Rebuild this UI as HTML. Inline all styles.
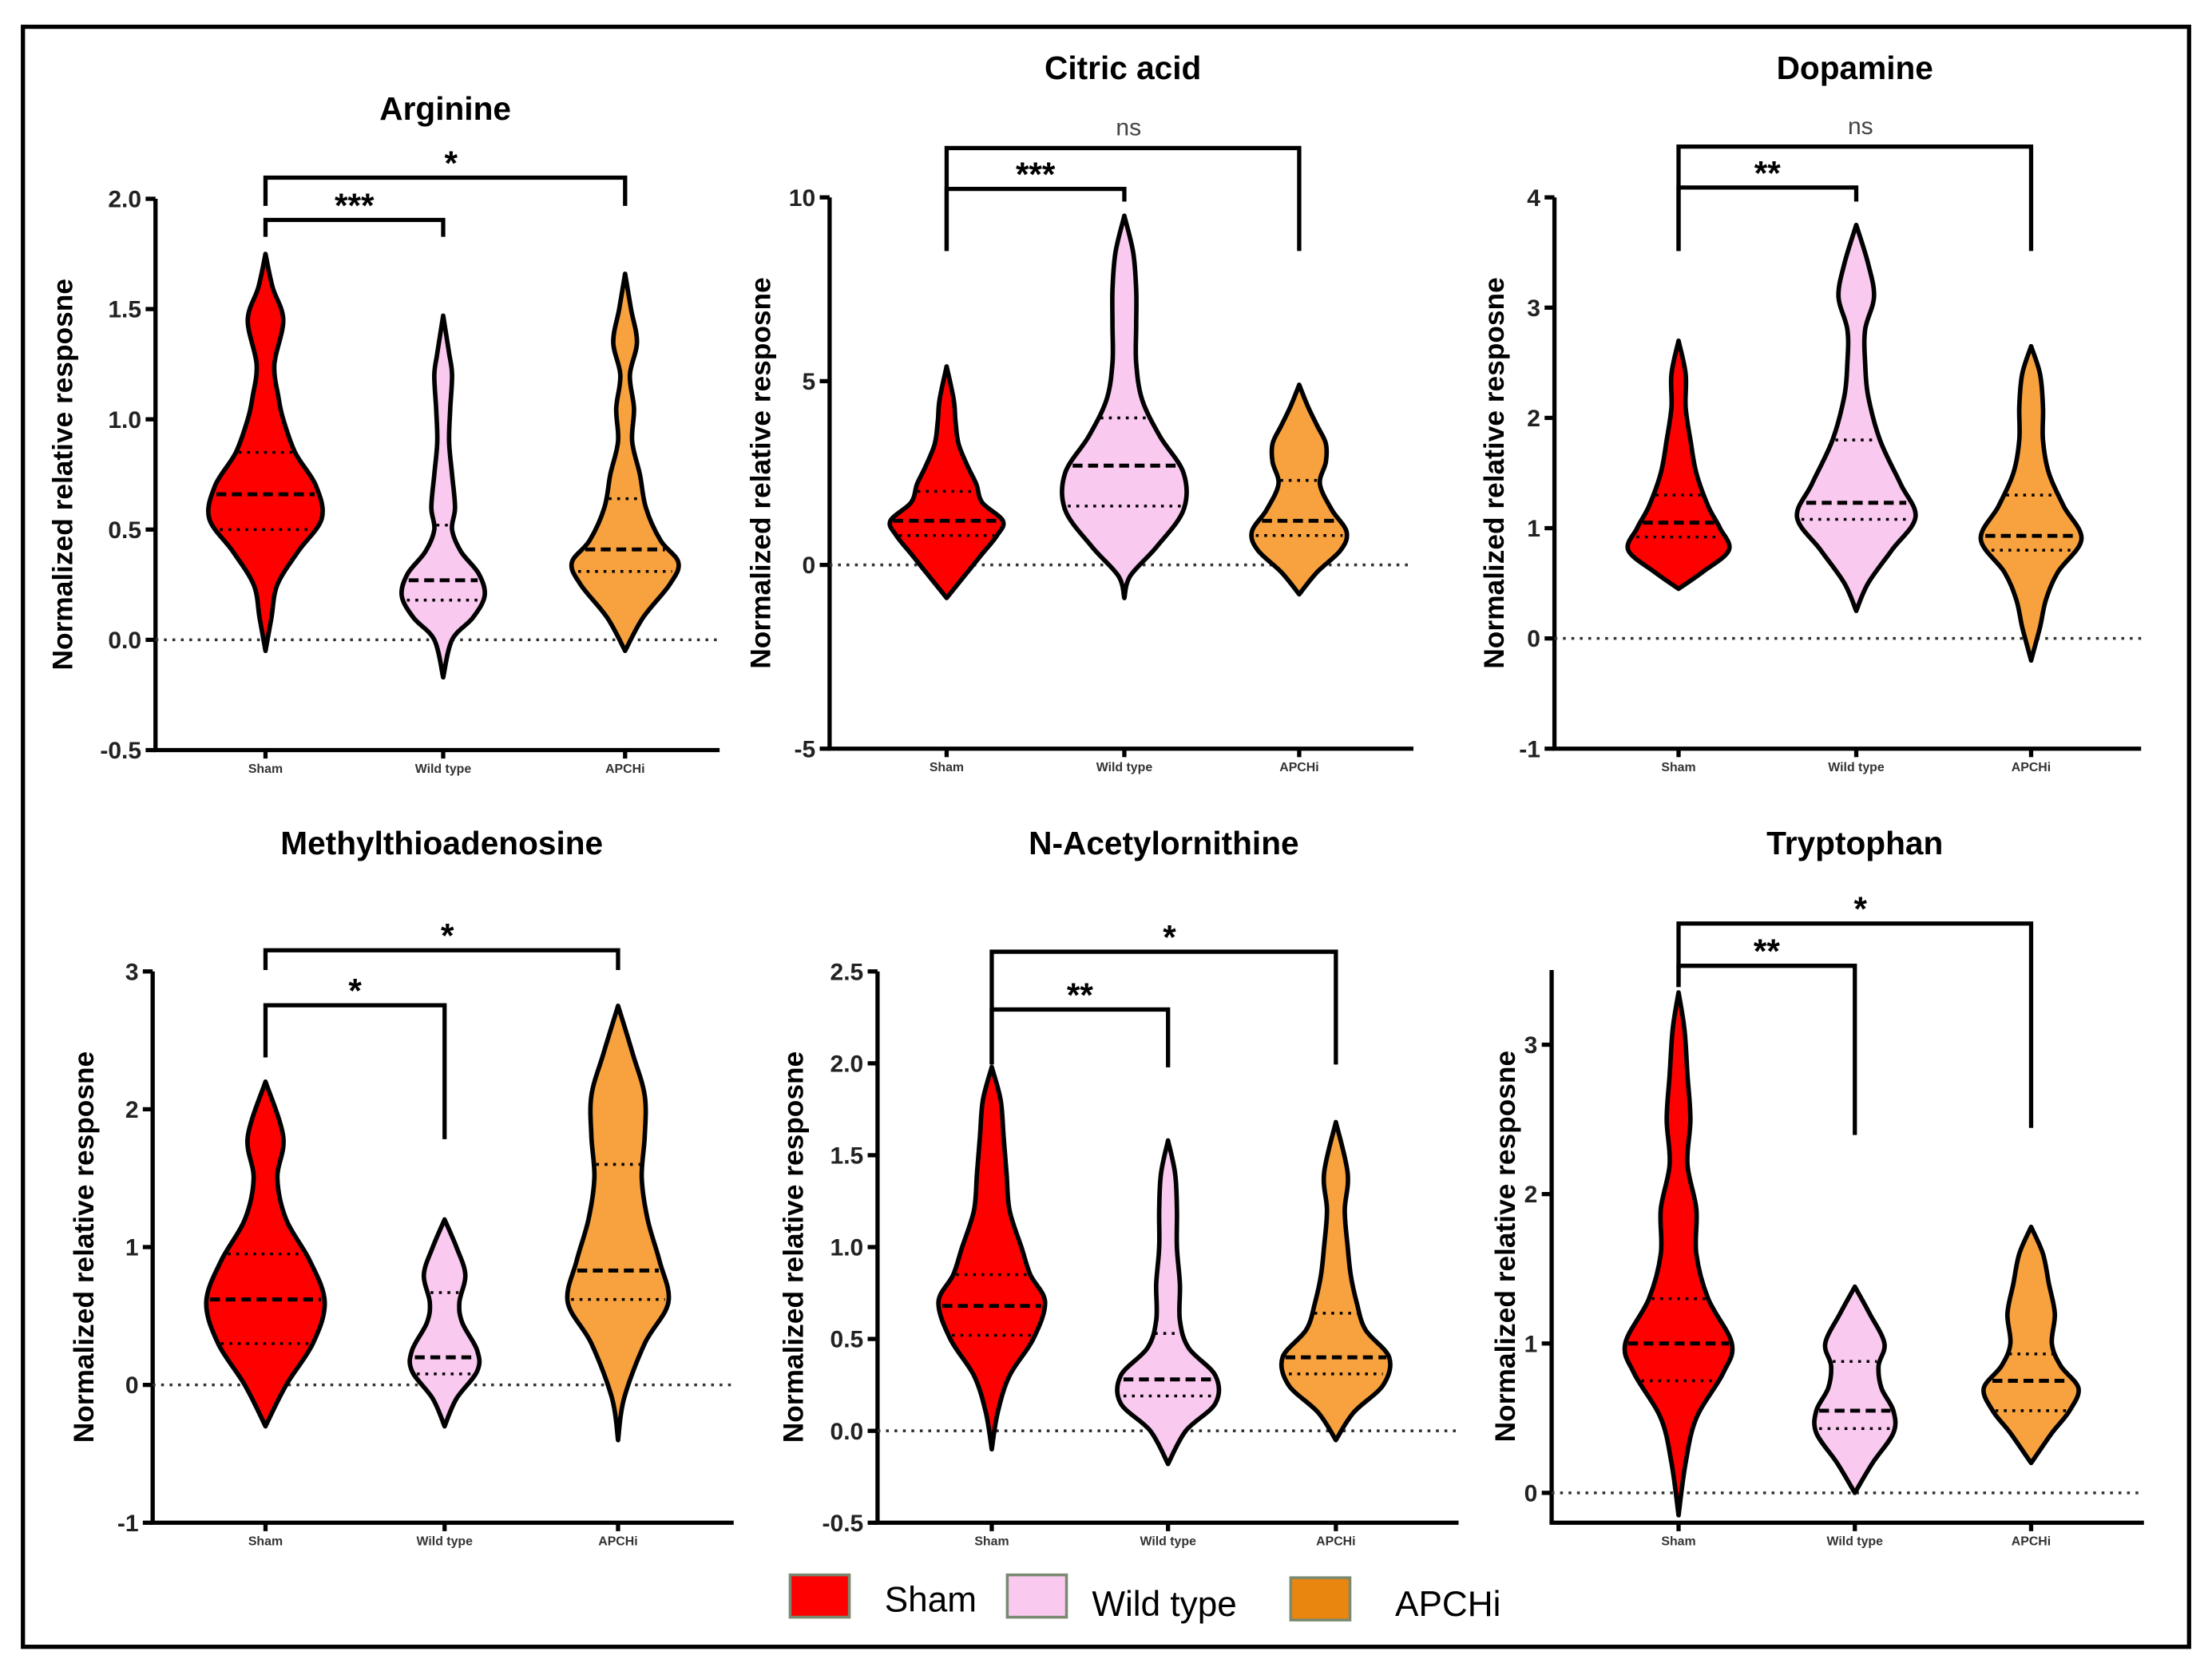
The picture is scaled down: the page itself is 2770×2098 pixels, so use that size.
<!DOCTYPE html>
<html><head><meta charset="utf-8"><style>
html,body{margin:0;padding:0;background:#fff;}
svg{display:block;}
text{font-family:"Liberation Sans",Arial,sans-serif;}
</style></head><body>
<svg id="fig" width="2770" height="2098" viewBox="0 0 1568 1188" xmlns="http://www.w3.org/2000/svg">
<rect x="16" y="19" width="1536" height="1149" fill="#fff" stroke="#000" stroke-width="3"/>
<g id="panels"></g>
<g>
 <rect x="560" y="1117" width="42" height="30" fill="#ff0000" stroke="#7a8a70" stroke-width="2"/>
 <text x="627" y="1143" font-size="25">Sham</text>
 <rect x="714" y="1117" width="42" height="30" fill="#f9c9ef" stroke="#7a8a70" stroke-width="2"/>
 <text x="774" y="1146" font-size="25">Wild type</text>
 <rect x="915" y="1119" width="42" height="30" fill="#e8860f" stroke="#7a8a70" stroke-width="2"/>
 <text x="989" y="1146" font-size="25">APCHi</text>
</g>
</svg>
<script>
const categories=["Sham","Wild type","APCHi"];
const titles=["Arginine","Citric acid","Dopamine","Methylthioadenosine","N-Acetylornithine","Tryptophan"];
const yTicks=[[-0.5,0,0.5,1,1.5,2],[-5,0,5,10],[-1,0,1,2,3,4],[-1,0,1,2,3],[-0.5,0,0.5,1,1.5,2,2.5],[0,1,2,3]];
const yTickLabels=[["-0.5","0.0","0.5","1.0","1.5","2.0"],["-5","0","5","10"],["-1","0","1","2","3","4"],["-1","0","1","2","3"],["-0.5","0.0","0.5","1.0","1.5","2.0","2.5"],["0","1","2","3"]];
const yDomains=[[-0.5,2],[-5,10],[-1,4],[-1,3],[-0.5,2.5],[-0.2,3.5]];
// violin levels / relative densities per panel [sham, wild, apchi]
const levels=[
 [[-0.05,0.1,0.25,0.4,0.55,0.7,0.85,1.0,1.1,1.25,1.45,1.6,1.75],[-0.17,0,0.1,0.2,0.3,0.4,0.5,0.6,0.75,0.9,1.05,1.2,1.3,1.47],[-0.05,0.1,0.25,0.35,0.45,0.6,0.75,0.9,1.05,1.2,1.35,1.5,1.66]],
 [[-0.9,-0.3,0.3,0.8,1.2,1.7,2.2,2.7,3.3,3.9,4.5,5.4],[-0.9,-0.3,0.5,1.5,2.5,3.5,4.5,5.5,6.5,7.5,8.5,9.5],[-0.8,-0.2,0.4,0.9,1.5,2.2,2.8,3.3,3.8,4.3,4.9]],
 [[0.45,0.6,0.8,1.0,1.2,1.5,1.8,2.1,2.4,2.7],[0.25,0.5,0.8,1.1,1.4,1.8,2.2,2.5,2.8,3.1,3.4,3.75],[-0.2,0.1,0.35,0.6,0.9,1.2,1.5,1.8,2.1,2.4,2.65]],
 [[-0.3,0,0.3,0.6,0.9,1.2,1.5,1.8,2.2],[-0.3,-0.1,0.1,0.25,0.45,0.6,0.8,1.0,1.2],[-0.4,-0.1,0.3,0.6,0.9,1.2,1.5,1.8,2.1,2.4,2.75]],
 [[-0.1,0.1,0.3,0.5,0.7,0.85,1.0,1.2,1.4,1.6,1.8,1.98],[-0.18,0,0.15,0.3,0.45,0.6,0.8,1.0,1.2,1.4,1.58],[-0.05,0.1,0.25,0.4,0.55,0.7,0.85,1.0,1.2,1.4,1.68]],
 [[-0.15,0.2,0.5,0.8,1.0,1.3,1.6,1.9,2.2,2.5,2.8,3.1,3.35],[0,0.2,0.4,0.55,0.7,0.85,1.0,1.2,1.38],[0.2,0.4,0.55,0.7,0.85,1.0,1.2,1.4,1.6,1.78]]
];
const densities=[
 [[0,0.1,0.2,0.55,0.95,0.85,0.5,0.3,0.22,0.15,0.3,0.12,0],[0,0.15,0.5,0.7,0.6,0.3,0.15,0.2,0.15,0.1,0.12,0.15,0.1,0],[0,0.3,0.75,0.9,0.6,0.35,0.25,0.12,0.15,0.08,0.2,0.1,0]],
 [[0,0.3,0.6,0.85,0.95,0.6,0.5,0.35,0.2,0.15,0.12,0],[0,0.1,0.55,1.0,1.0,0.6,0.3,0.2,0.2,0.2,0.15,0],[0,0.3,0.7,0.8,0.55,0.35,0.45,0.45,0.3,0.15,0]],
 [[0,0.4,0.85,0.7,0.5,0.3,0.2,0.12,0.12,0],[0,0.2,0.6,1.0,0.75,0.4,0.2,0.15,0.15,0.3,0.2,0],[0,0.15,0.25,0.45,0.85,0.55,0.3,0.2,0.2,0.15,0]],
 [[0,0.35,0.8,1.0,0.75,0.35,0.2,0.3,0],[0,0.2,0.55,0.55,0.3,0.25,0.35,0.2,0],[0,0.1,0.45,0.85,0.7,0.5,0.4,0.45,0.45,0.25,0]],
 [[0,0.1,0.3,0.7,0.9,0.65,0.5,0.3,0.25,0.2,0.15,0],[0,0.3,0.8,0.8,0.35,0.2,0.2,0.15,0.15,0.12,0],[0,0.3,0.8,0.9,0.5,0.35,0.25,0.2,0.15,0.2,0]],
 [[0,0.12,0.3,0.75,0.9,0.5,0.3,0.3,0.15,0.2,0.15,0.1,0],[0,0.3,0.65,0.65,0.45,0.4,0.5,0.25,0],[0,0.35,0.65,0.8,0.5,0.35,0.4,0.3,0.2,0]]
];
const medians=[[0.66,0.27,0.41],[1.2,2.7,1.2],[1.05,1.23,0.93],[0.62,0.2,0.83],[0.68,0.28,0.4],[1.0,0.55,0.75]];
const q1s=[[0.5,0.18,0.31],[0.8,1.6,0.8],[0.92,1.08,0.8],[0.3,0.08,0.62],[0.52,0.19,0.31],[0.75,0.43,0.55]];
const q3s=[[0.85,0.52,0.64],[2.0,4.0,2.3],[1.3,1.8,1.3],[0.95,0.67,1.6],[0.85,0.53,0.64],[1.3,0.88,0.93]];
const sigOuter=["*","ns","ns","*","*","*"];
const sigInner=["***","***","**","*","**","**"];
// layout (non-data)
const layout=[
 {ax:110,top:141,bot:532,right:510,cx:[188,314,443],ty:85,ob:126,ib:156,olegs:[146,146],ilegs:[168,168],yl:66},
 {ax:588,top:140,bot:531,right:1002,cx:[671,797,921],ty:56,ob:105,ib:134,olegs:[178,178],ilegs:[178,143],yl:49},
 {ax:1102,top:140,bot:531,right:1518,cx:[1190,1316,1440],ty:56,ob:104,ib:133,olegs:[178,178],ilegs:[178,143],yl:43},
 {ax:108,top:689,bot:1080,right:520,cx:[188,315,438],ty:606,ob:674,ib:713,olegs:[688,688],ilegs:[750,808],yl:49},
 {ax:622,top:689,bot:1080,right:1034,cx:[703,828,947],ty:606,ob:675,ib:716,olegs:[755,755],ilegs:[755,757],yl:60},
 {ax:1100,top:688,bot:1080,right:1520,cx:[1190,1315,1440],ty:606,ob:655,ib:685,olegs:[700,800],ilegs:[700,805],yl:33}
];
const fills=["#ff0000","#f9c9ef","#f7a23f"];
const NS="http://www.w3.org/2000/svg";
const root=document.getElementById('panels');
function mk(tag,attrs,parent){const e=document.createElementNS(NS,tag);for(const k in attrs)e.setAttribute(k,attrs[k]);parent.appendChild(e);return e;}
function crPath(pts){let d=`M${pts[0][0]},${pts[0][1]}`;for(let i=0;i<pts.length-1;i++){const p0=pts[Math.max(0,i-1)],p1=pts[i],p2=pts[i+1],p3=pts[Math.min(pts.length-1,i+2)];const c1=[p1[0]+(p2[0]-p0[0])/6,p1[1]+(p2[1]-p0[1])/6],c2=[p2[0]-(p3[0]-p1[0])/6,p2[1]-(p3[1]-p1[1])/6];d+=` C${c1[0].toFixed(1)},${c1[1].toFixed(1)} ${c2[0].toFixed(1)},${c2[1].toFixed(1)} ${p2[0].toFixed(1)},${p2[1].toFixed(1)}`;}return d;}
function interp(lv,dn,v){for(let i=0;i<lv.length-1;i++){if(v>=lv[i]&&v<=lv[i+1]){const t=(v-lv[i])/(lv[i+1]-lv[i]);return dn[i]+t*(dn[i+1]-dn[i]);}}return 0;}
const HALF=42;
titles.forEach((title,p)=>{
 const L=layout[p];const [d0,d1]=yDomains[p];
 const y=v=>L.bot-(v-d0)/(d1-d0)*(L.bot-L.top);
 const g=mk('g',{},root);
 
 
 const t=mk('text',{x:(L.cx[0]+L.cx[2])/2,y:L.ty,'font-size':23,'font-weight':'bold','text-anchor':'middle'},g);t.textContent=title;
 
 
 const ya=mk('line',{x1:L.ax,y1:L.top,x2:L.ax,y2:L.bot,stroke:'#000','stroke-width':3},g);
 
 
 const xa=mk('line',{x1:L.ax-1.5,y1:L.bot,x2:L.right,y2:L.bot,stroke:'#000','stroke-width':3},g);
 
 
 yTicks[p].forEach((tv,i)=>{const yy=y(tv);mk('line',{x1:L.ax-7,y1:yy,x2:L.ax,y2:yy,stroke:'#000','stroke-width':3},g);
  const tl=mk('text',{x:L.ax-10,y:yy+6,'font-size':17,'font-weight':'bold','text-anchor':'end',fill:'#222'},g);tl.textContent=yTickLabels[p][i];
  
  });
 const yl=mk('text',{x:0,y:0,'font-size':20,'font-weight':'bold','text-anchor':'middle',transform:`translate(${L.ax-L.yl+7},${(L.top+L.bot)/2}) rotate(-90)`},g);yl.textContent='Normalized relative resposne';
 
 
 const z=mk('line',{x1:L.ax,y1:y(0),x2:L.right,y2:y(0),stroke:'#333','stroke-width':2,'stroke-dasharray':'2 4'},g);
 
 
 categories.forEach((c,k)=>{
  const cx=L.cx[k];
  mk('line',{x1:cx,y1:L.bot,x2:cx,y2:L.bot+6,stroke:'#000','stroke-width':3},g);
  const cl=mk('text',{x:cx,y:L.bot+16,'font-size':9,'font-weight':'bold','text-anchor':'middle',fill:'#333'},g);cl.textContent=c;
  
  
  const lv=levels[p][k],dn=densities[p][k];
  const right=lv.map((v,i)=>[cx+dn[i]*HALF,y(v)]);
  const left=lv.map((v,i)=>[cx-dn[i]*HALF,y(v)]).reverse();
  const d=crPath(right)+' '+crPath(left).replace(/^M/,'L')+' Z';
  const vp=mk('path',{d:d,fill:fills[k],stroke:'#000','stroke-width':3.2,'stroke-linejoin':'round'},g);
  
  
  const qd=(v,dash,w,name)=>{const hw=interp(lv,dn,v)*HALF-2;if(hw<=0)return;const ln=mk('line',{x1:cx-hw,y1:y(v),x2:cx+hw,y2:y(v),stroke:'#000','stroke-width':w,'stroke-dasharray':dash},g);
   
   };
  qd(medians[p][k],'7 4',2.8,'median-line');
  qd(q1s[p][k],'2 4',2,'quartile-line');
  qd(q3s[p][k],'2 4',2,'quartile-line');
 });
 const bo=mk('path',{d:`M${L.cx[0]},${L.olegs[0]} V${L.ob} H${L.cx[2]} V${L.olegs[1]}`,fill:'none',stroke:'#000','stroke-width':3},g);
 
 
 const bi=mk('path',{d:`M${L.cx[0]},${L.ilegs[0]} V${L.ib} H${L.cx[1]} V${L.ilegs[1]}`,fill:'none',stroke:'#000','stroke-width':3},g);
 
 
 const ns1=sigOuter[p]==='ns';
 const so=mk('text',{x:(L.cx[0]+L.cx[2])/2+4,y:ns1?L.ob-9:L.ob-2,'font-size':ns1?17:24,'font-weight':ns1?'normal':'bold','text-anchor':'middle',fill:ns1?'#444':'#000'},g);so.textContent=sigOuter[p];
 
 
 const si=mk('text',{x:(L.cx[0]+L.cx[1])/2,y:L.ib-2,'font-size':24,'font-weight':'bold','text-anchor':'middle'},g);si.textContent=sigInner[p];
 
 
});
</script>
</body></html>
